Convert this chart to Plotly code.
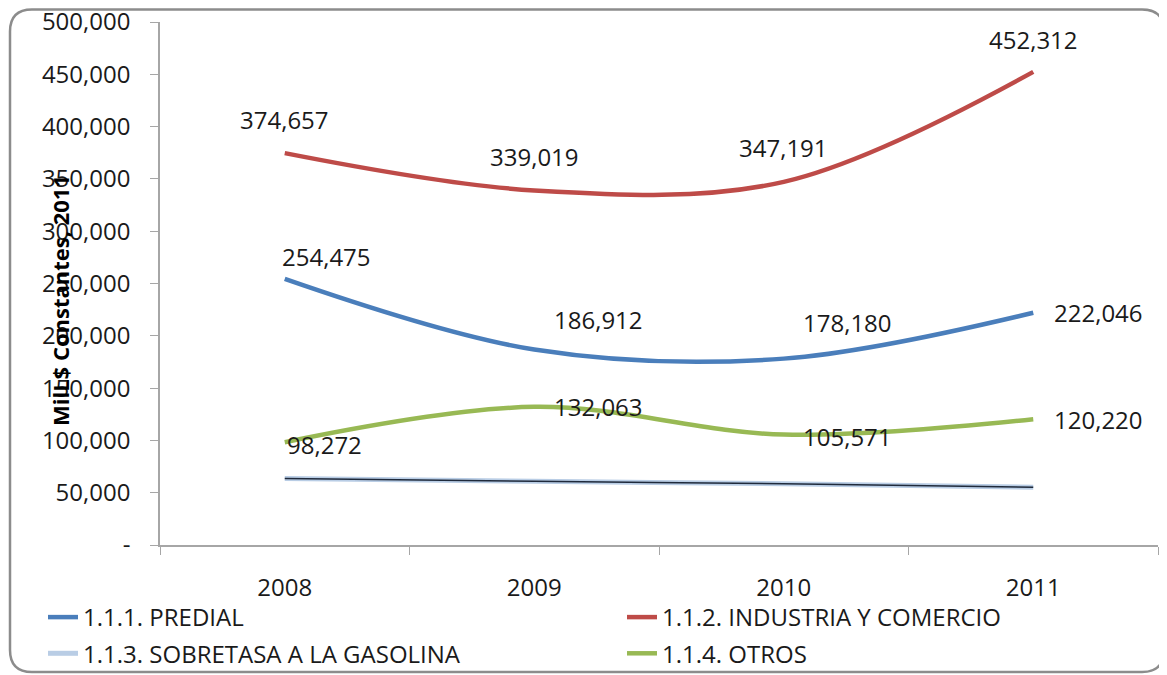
import plotly.graph_objects as go

years = ["2008", "2009", "2010", "2011"]
predial = [254475, 186912, 178180, 222046]
industria = [374657, 339019, 347191, 452312]
sobretasa = [63500, 61000, 58500, 55300]
otros = [98272, 132063, 105571, 120220]

y_tickvals = [0, 50000, 100000, 150000, 200000, 250000, 300000, 350000, 400000, 450000, 500000]
y_ticktext = ["-", "50,000", "100,000", "150,000", "200,000", "250,000", "300,000",
              "350,000", "400,000", "450,000", "500,000"]

FONT = "Open Sans"
FS = 24
TXT = "#1a1a1a"

# the page adds an 8px body margin; lay the figure out so the plot area lands
# at page x 160..1158, y 22..545
W, H = 1159, 667


def px2x(p):
    return (p - 160) / 998


def py2y(p):
    return (545 - p) / 523


fig = go.Figure()


def add_line(name, vals, color, width, legend="legend", showlegend=True):
    fig.add_trace(go.Scatter(
        x=years, y=vals, name=name, mode="lines",
        line=dict(color=color, width=width, shape="spline", smoothing=1.0),
        showlegend=showlegend, legend=legend, legendgroup=name, hoverinfo="skip"))


add_line("1.1.1. PREDIAL", predial, "#4A7EBB", 4.5, "legend")
add_line("1.1.2. INDUSTRIA Y COMERCIO", industria, "#BE4B48", 4.5, "legend2")
add_line("1.1.3. SOBRETASA A LA GASOLINA", sobretasa, "#B9CDE5", 5, "legend")
add_line("sobretasa_core", sobretasa, "#1F2A3C", 1.5, "legend", showlegend=False)
add_line("1.1.4. OTROS", otros, "#98B954", 4.5, "legend2")

# data labels (pixel offsets, kept separate from the data)
label_specs = [
    (predial, [(42, 22), (64, 30), (64, 36), (65, 0)]),
    (industria, [(0, 34), (0, 34), (0, 34), (0, 32)]),
    (otros, [(40, -2), (64, 0), (64, -2), (65, 0)]),
]
for vals, offs in label_specs:
    for i, (v, (dx, dy)) in enumerate(zip(vals, offs)):
        fig.add_annotation(x=i, y=v, xref="x", yref="y", text=f"{v:,}",
                           showarrow=False, xshift=dx, yshift=dy,
                           font=dict(family=FONT, size=FS, color=TXT))

# y-axis title overlapping the tick labels
fig.add_annotation(x=px2x(43), y=py2y(301), xref="paper", yref="paper",
                   text="<b>MilL$ Constantes, 2011</b>", textangle=-90, showarrow=False,
                   font=dict(family=FONT, size=22, color="#000000"))

# rounded chart border
L, R, T, B = px2x(10), px2x(1164), py2y(9.5), py2y(672)
rx, ry = 22 / 998, 22 / 523
path = (f"M {L + rx},{T} L {R - rx},{T} Q {R},{T} {R},{T - ry} "
        f"L {R},{B + ry} Q {R},{B} {R - rx},{B} L {L + rx},{B} "
        f"Q {L},{B} {L},{B + ry} L {L},{T - ry} Q {L},{T} {L + rx},{T} Z")
fig.add_shape(type="path", path=path, xref="paper", yref="paper",
              line=dict(color="#8C8C8C", width=2.5), layer="below")

legend_common = dict(orientation="v", xanchor="left", yanchor="top",
                     font=dict(family=FONT, size=FS, color=TXT),
                     bgcolor="rgba(0,0,0,0)", tracegroupgap=2, traceorder="grouped")

fig.update_layout(
    width=W, height=H,
    margin=dict(l=152, r=9, t=14, b=130, autoexpand=False),
    paper_bgcolor="white", plot_bgcolor="white",
    font=dict(family=FONT, size=FS, color=TXT),
    showlegend=True,
    legend=dict(x=px2x(43), y=py2y(595), **legend_common),
    legend2=dict(x=px2x(622), y=py2y(595), **legend_common),
    xaxis=dict(type="category", tickson="boundaries", ticks="outside", ticklen=8,
               tickcolor="#A6A6A6", showline=True, linecolor="#A6A6A6", linewidth=1.5,
               showgrid=False, zeroline=False, ticklabelstandoff=20,
               tickfont=dict(family=FONT, size=FS, color=TXT),
               range=[-0.5, 3.5]),
    yaxis=dict(range=[0, 500000], tickvals=y_tickvals, ticktext=y_ticktext,
               ticks="outside", ticklen=8, tickcolor="#A6A6A6", showline=True,
               linecolor="#A6A6A6", linewidth=1.5, showgrid=False, zeroline=False,
               ticklabelstandoff=15, ticklabeloverflow="allow",
               tickfont=dict(family=FONT, size=FS, color=TXT)),
)

fig.write_html("out.html")
